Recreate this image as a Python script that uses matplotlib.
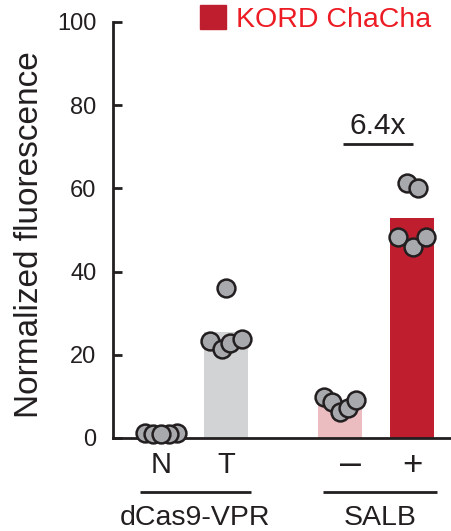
import matplotlib.pyplot as plt
import matplotlib.transforms as mtransforms
from matplotlib.patches import Patch
import numpy as np

plt.rcParams['font.family'] = ['Liberation Sans', 'DejaVu Sans']

# data
conditions = ['N', 'T', '–', '+']
bar_means = [1.0, 25.5, 8.3, 52.8]
points = [
    [1.1, 1.0, 1.2, 1.0, 0.9],
    [23.4, 21.4, 22.9, 23.9, 36.1],
    [9.9, 8.7, 6.3, 7.2, 9.2],
    [61.4, 60.0, 48.2, 46.0, 48.2],
]
groups = ['dCas9-VPR', 'SALB']
fold_label = '6.4x'
legend_label = 'KORD ChaCha'

# layout (x in pixel-like units)
xpos = [48, 113, 227, 299]
jitter = [
    [-16, -8, 16, 8, 0],
    [-16, -4, 4, 16, 0],
    [-16, -8, 0, 8, 16],
    [-5, 6, -14, 1, 14],
]
label_size = {'N': 21, 'T': 21, '–': 27, '+': 25}
label_dx = {'N': 0, 'T': 0, '–': 11, '+': 0}
bar_colors = ['#d1d3d4', '#d1d3d4', '#ebbcc0', '#be1e2d']
dot_color = '#a7a9ac'
txt_color = '#231f20'
red_text = '#ed1c24'

fig = plt.figure(figsize=(4.52, 5.31), dpi=100)
ax = fig.add_axes([113/452, 1 - 438/531, 339/452, 416/531])

ax.bar(xpos, bar_means, width=44, color=bar_colors, zorder=1)
for i in range(len(xpos)):
    xs = np.array(xpos[i]) + np.array(jitter[i])
    ax.scatter(xs, points[i], s=165, color=dot_color, edgecolor=txt_color,
               linewidth=1.8, zorder=3, clip_on=False)

ax.set_xlim(0, 339)
ax.set_ylim(0, 100)
ax.set_yticks(range(0, 101, 20))
ax.tick_params(axis='y', direction='in', length=6.5, width=2, labelsize=17,
               pad=12, colors=txt_color)
ax.set_xticks([])
for s in ['top', 'right']:
    ax.spines[s].set_visible(False)
for s in ['left', 'bottom']:
    ax.spines[s].set_linewidth(2)
    ax.spines[s].set_color(txt_color)

ax.set_ylabel('Normalized fluorescence', fontsize=24, color=txt_color)
ax.yaxis.set_label_coords(-0.2, 0.49)

# condition labels under the axis
trans = mtransforms.offset_copy(ax.get_xaxis_transform(), fig=fig, y=-27, units='dots')
for x, lab in zip(xpos, conditions):
    ax.text(x + label_dx[lab], 0, lab, transform=trans, ha='center', va='center',
            fontsize=label_size[lab], color=txt_color)

# group lines and labels
line_trans = mtransforms.offset_copy(ax.get_xaxis_transform(), fig=fig, y=-54, units='dots')
grp_trans = mtransforms.offset_copy(ax.get_xaxis_transform(), fig=fig, y=-80, units='dots')
group_spans = [(27, 138), (210, 324)]
for (x0, x1), g in zip(group_spans, groups):
    ax.plot([x0, x1], [0, 0], transform=line_trans, color=txt_color, lw=2,
            clip_on=False, solid_capstyle='butt')
    ax.text((x0 + x1) / 2, 0, g, transform=grp_trans, ha='center', va='center',
            fontsize=20.5, color=txt_color)

# fold change annotation
ax.plot([230, 300], [70.6, 70.6], color=txt_color, lw=2, solid_capstyle='butt')
ax.text(265, 71.6, fold_label, ha='center', va='bottom', fontsize=21.5, color=txt_color)

leg = ax.legend(handles=[Patch(color='#be1e2d', label=legend_label)],
                loc='upper left', bbox_to_anchor=(200/452, 1 - 5/531),
                bbox_transform=fig.transFigure, frameon=False, fontsize=20.5,
                handlelength=0.9, handleheight=0.9, handletextpad=0.38,
                borderpad=0, borderaxespad=0)
for t in leg.get_texts():
    t.set_color(red_text)

plt.savefig('out.png', dpi=100)
plt.close()
